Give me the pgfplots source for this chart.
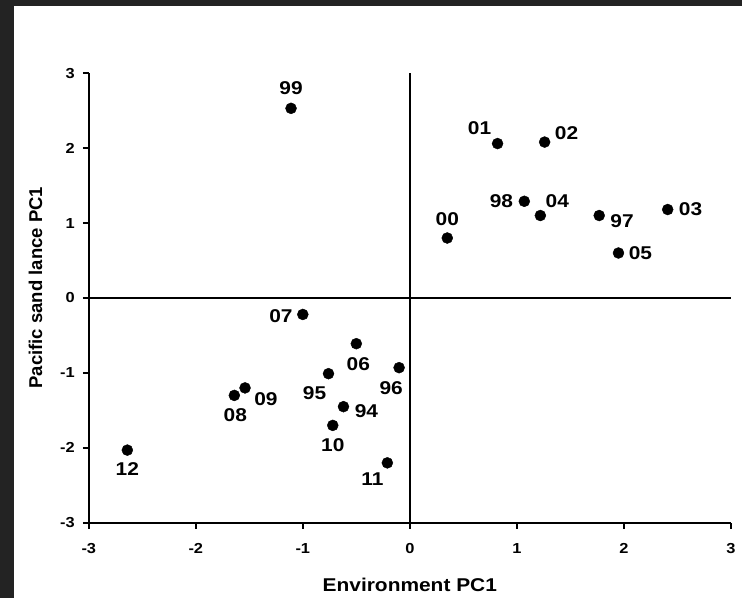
\documentclass[border=0pt]{standalone}
\usepackage{pgfplots}
\pgfplotsset{compat=1.18}
\usepackage{pgfplotstable}
\usepackage{fontspec}
\setmainfont{Liberation Sans}
\newfontfamily\wfont{Liberation Sans}[FakeStretch=1.13]
\definecolor{darkbg}{RGB}{35,35,35}

\pgfplotstableread{
x y lab dx dy
-1.11 2.53 99 0 20
0.82 2.06 01 -18 15
1.26 2.08 02 22 9
1.07 1.29 98 -23 0
1.22 1.10 04 17 14
1.77 1.10 97 23 -6
2.41 1.18 03 23 0
1.95 0.60 05 22 0
0.35 0.80 00 0 19
-1.00 -0.22 07 -22 -2
-0.50 -0.61 06 2 -21
-0.10 -0.93 96 -8 -21
-0.76 -1.01 95 -14 -20
-1.54 -1.20 09 21 -11
-1.64 -1.30 08 1 -20
-0.62 -1.45 94 23 -4
-0.72 -1.70 10 0 -20
-0.21 -2.20 11 -15 -16
-2.64 -2.03 12 0 -19
}\pts

\begin{document}
\begin{tikzpicture}[x=1bp,y=1bp]
\fill[darkbg] (0,0) rectangle (742,598);
\fill[white] (14,0) rectangle (742,592);
\begin{axis}[
  at={(83,100.3)}, anchor=south west,
  scale only axis, width=642bp, height=449.7bp,
  xmin=-3, xmax=3, ymin=-3, ymax=3,
  enlargelimits=false, clip=false,
  axis lines*=left,
  axis line style={line width=1.8bp},
  tick align=outside, major tick length=6bp,
  tick style={line width=1.8bp, black},
  xtick={-3,-2,-1,0,1,2,3}, ytick={-3,-2,-1,0,1,2,3},
  xticklabels={-3,-2,-1,0,1,2,3},
  yticklabels={-3,-2,-1,0,1,2,3},
  ticklabel style={font=\wfont\bfseries\fontsize{14.5bp}{16bp}\selectfont},
  xticklabel style={yshift=-11bp},
  yticklabel style={xshift=-4.5bp},
  xlabel={Environment PC1},
  ylabel={Pacific sand lance PC1},
  xlabel style={font=\wfont\bfseries\fontsize{18.5bp}{20bp}\selectfont, at={(axis description cs:0.5,0)}, anchor=base, yshift=-69bp},
  ylabel style={font=\bfseries\fontsize{18.5bp}{20bp}\selectfont, at={(axis description cs:-0.0727,0.523)}, anchor=base},
]
\addplot[black, line width=1.8bp, forget plot] coordinates {(-3,0) (3,0)};
\addplot[black, line width=1.8bp, forget plot] coordinates {(0,-3) (0,3)};
\addplot[only marks, mark=*, mark size=5.5bp, black,
  point meta=explicit symbolic,
  nodes near coords,
  visualization depends on={\thisrow{dx} \as \labdx},
  visualization depends on={\thisrow{dy} \as \labdy},
  every node near coord/.append style={anchor=center, inner sep=0pt,
     xshift=\labdx pt, yshift=\labdy pt,
     font=\wfont\bfseries\fontsize{18.5bp}{20bp}\selectfont, text=black},
] table[x=x, y=y, meta=lab] {\pts};
\end{axis}
\pgfresetboundingbox
\useasboundingbox (0,0) rectangle (742,598);
\end{tikzpicture}
\end{document}
